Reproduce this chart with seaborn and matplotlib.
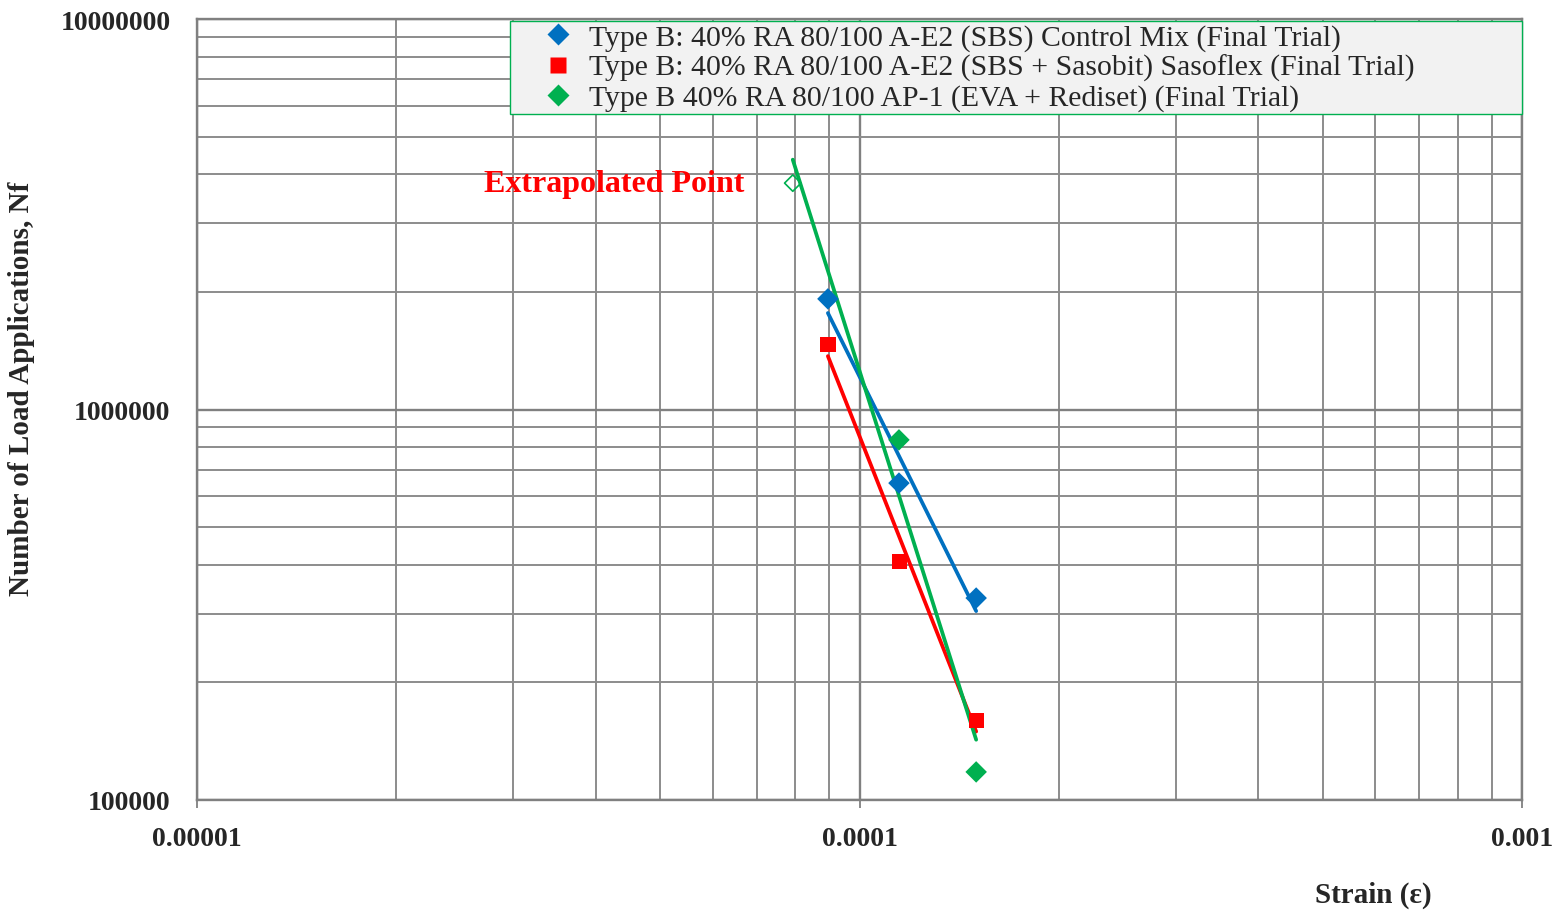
import numpy as np
import pandas as pd
import matplotlib
matplotlib.use("Agg")
import matplotlib.pyplot as plt
from matplotlib.ticker import FixedLocator, FixedFormatter, LogLocator, NullFormatter
import seaborn as sns

# Fatigue test results: tensile strain vs. number of load applications to failure
series_names = [
    "Type B: 40% RA 80/100 A-E2 (SBS) Control Mix (Final Trial)",
    "Type B: 40% RA 80/100 A-E2 (SBS + Sasobit) Sasoflex (Final Trial)",
    "Type B 40% RA 80/100 AP-1 (EVA + Rediset) (Final Trial)",
]
control_strain = [8.96e-5, 1.147e-4, 1.50e-4]
control_nf = [1.92e6, 6.48e5, 3.29e5]
sasoflex_strain = [8.96e-5, 1.150e-4, 1.50e-4]
sasoflex_nf = [1.47e6, 4.09e5, 1.60e5]
eva_strain = [1.147e-4, 1.50e-4]
eva_nf = [8.36e5, 1.18e5]
extrap_strain = [7.93e-5]
extrap_nf = [3.80e6]

x_ticks = [1e-5, 1e-4, 1e-3]
x_tick_labels = ["0.00001", "0.0001", "0.001"]
y_ticks = [1e5, 1e6, 1e7]
y_tick_labels = ["100000", "1000000", "10000000"]

colors = ["#0070C0", "#FF0000", "#00B050"]
markers = ["D", "s", "D"]

sns.set_theme(style="white")
plt.rcParams["font.family"] = ["Liberation Serif", "DejaVu Serif"]

fig = plt.figure(figsize=(15.58, 9.12), dpi=100)
ax = fig.add_axes([197 / 1558, 1 - 801 / 912, 1325 / 1558, 781 / 912])
ax.set_facecolor("white")

points = pd.concat([
    pd.DataFrame({"strain": control_strain, "nf": control_nf, "mix": series_names[0]}),
    pd.DataFrame({"strain": sasoflex_strain, "nf": sasoflex_nf, "mix": series_names[1]}),
    pd.DataFrame({"strain": eva_strain, "nf": eva_nf, "mix": series_names[2]}),
], ignore_index=True)

ax.set_xscale("log")
ax.set_yscale("log")

# power-law trend lines fitted in log-log space over each series' strain range
fit_sets = [
    (control_strain, control_nf),
    (sasoflex_strain, sasoflex_nf),
    (extrap_strain + eva_strain, extrap_nf + eva_nf),
]
for (xs, ys), c in zip(fit_sets, colors):
    lx, ly = np.log10(xs), np.log10(ys)
    slope, icpt = np.polyfit(lx, ly, 1)
    xr = np.array([min(xs), max(xs)])
    trend = pd.DataFrame({"strain": xr, "nf": 10 ** (icpt + slope * np.log10(xr))})
    sns.lineplot(data=trend, x="strain", y="nf", ax=ax, color=c, lw=2.7,
                 legend=False, zorder=3)

sns.scatterplot(data=points, x="strain", y="nf", hue="mix", style="mix",
                hue_order=series_names, style_order=series_names,
                palette=dict(zip(series_names, colors)),
                markers=dict(zip(series_names, markers)),
                s=120, edgecolor="none", ax=ax, zorder=4)

# extrapolated point (open marker)
ax.scatter(extrap_strain, extrap_nf, marker="D", s=70, facecolors="none",
           edgecolors=colors[2], linewidths=1.2, zorder=4)
ax.annotate("Extrapolated Point", xy=(extrap_strain[0], extrap_nf[0]),
            xytext=(-35, 0), textcoords="offset points", ha="right", va="center",
            color="#FF0000", fontsize=23, fontweight="bold")

ax.set_xlim(1e-5, 1e-3)
ax.set_ylim(1e5, 1e7)

ax.xaxis.set_major_locator(FixedLocator(x_ticks))
ax.xaxis.set_major_formatter(FixedFormatter(x_tick_labels))
ax.yaxis.set_major_locator(FixedLocator(y_ticks))
ax.yaxis.set_major_formatter(FixedFormatter(y_tick_labels))
ax.xaxis.set_minor_locator(LogLocator(base=10, subs=np.arange(2, 10)))
ax.yaxis.set_minor_locator(LogLocator(base=10, subs=np.arange(2, 10)))
ax.xaxis.set_minor_formatter(NullFormatter())
ax.yaxis.set_minor_formatter(NullFormatter())

ax.grid(True, which="major", color="#808080", lw=1.7)
ax.grid(True, which="minor", color="#8c8c8c", lw=1.4)
ax.set_axisbelow(True)

ax.tick_params(axis="x", which="major", bottom=True, length=6, width=1.3,
               color="#808080", pad=13, labelsize=20)
ax.tick_params(axis="x", which="minor", bottom=False)
ax.tick_params(axis="y", which="both", left=False, length=0, pad=19, labelsize=20)
for lab in ax.get_xticklabels() + ax.get_yticklabels():
    lab.set_fontweight("bold")

for sp in ax.spines.values():
    sp.set_color("#808080")
    sp.set_linewidth(1.7)

ax.set_xlabel("")
ax.set_ylabel("")
fig.text(22 / 1558, 1 - 389 / 912, "Number of Load Applications, Nf", rotation=90,
         ha="center", va="center", fontsize=21, fontweight="bold")
fig.text(1373 / 1558, 1 - 895 / 912, "Strain (ε)", ha="center", va="center",
         fontsize=21, fontweight="bold")

handles, labels = ax.get_legend_handles_labels()
leg = ax.legend(handles, labels, loc="upper left",
                bbox_to_anchor=(313 / 1325, 779 / 781, 1012 / 1325, 0.0),
                mode="expand", borderaxespad=0, frameon=True, fancybox=False,
                fontsize=21.4, handletextpad=-0.5, labelspacing=0.1,
                borderpad=0.1, handlelength=3.05, markerscale=1.0)
leg.get_frame().set_facecolor("#F2F2F2")
leg.get_frame().set_edgecolor("#00B050")
leg.get_frame().set_linewidth(1.0)
leg.get_frame().set_alpha(1.0)
leg.set_zorder(10)

fig.patch.set_facecolor("white")
fig.savefig("out.png", dpi=100)
